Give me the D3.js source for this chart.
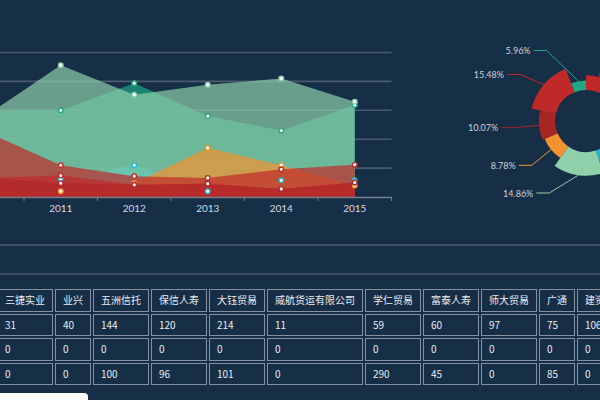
<!DOCTYPE html>
<html><head><meta charset="utf-8">
<script src="https://cdn.jsdelivr.net/npm/d3@7/dist/d3.min.js"></script>
<style>
html,body{margin:0;padding:0;width:600px;height:400px;overflow:hidden;background:#162e46;font-family:"Noto Sans CJK SC","Noto Sans",sans-serif;}
#chart{position:absolute;left:0;top:0;}
#tbl{position:absolute;left:-5px;top:287px;border-collapse:separate;border-spacing:2px;white-space:nowrap;}
#tbl td{border:1px solid #8591a0;color:#e8edf2;font-size:10px;padding:0 7px;height:20.5px;line-height:20.5px;}
#thumb{position:absolute;left:0;top:393px;width:88px;height:12px;background:#ffffff;border-radius:0 4px 0 0;}
</style></head><body>
<svg id="chart" width="600" height="290"></svg>
<table id="tbl"></table>
<div id="thumb"></div>
<script>
// ---------- data ----------
const years = ["2010", "2011", "2012", "2013", "2014", "2015"];
const seriesTeal = [150, 150, 197, 140, 115, 159];
const seriesCyan = [20, 31, 55, 10, 29, 29];
const seriesLightGreen = [142, 228, 177, 194, 205, 165];
const seriesOrange = [15, 10, 24, 85, 55, 20];
const seriesRed = [112, 55, 36, 33, 48, 56];
const seriesRed2 = [33, 37, 21, 23, 14, 25];
const seriesDarkRed = [33, 24, 21, 23, 14, 25];
const yTicks = [50, 100, 150, 200, 250];

const pieValues = [9.20, 13.80, 14.85, 7.00, 14.86, 8.78, 10.07, 15.48, 5.96];

const tableHeader = ["三捷实业", "业兴", "五洲信托", "保信人寿", "大钰贸易", "威航货运有限公司", "学仁贸易", "富泰人寿", "师大贸易", "广通", "建资贸易"];
const tableRow1 = [31, 40, 144, 120, 214, 11, 59, 60, 97, 75, 106];
const tableRow2 = [0, 0, 0, 0, 0, 0, 0, 0, 0, 0, 0];
const tableRow3 = [0, 0, 100, 96, 101, 0, 290, 45, 0, 85, 0];

// ---------- styles ----------
const C = {teal:"#20a884", cyan:"#1db8d4", lightGreen:"#8fcfa9", orange:"#f5922e", red:"#c0292a", darkRed:"#b0262a"};
const areaSeries = [
  {v: seriesTeal, c: C.teal},
  {v: seriesCyan, c: C.cyan},
  {v: seriesLightGreen, c: C.lightGreen},
  {v: seriesOrange, c: C.orange},
  {v: seriesRed, c: C.red},
  {v: seriesRed2, c: C.red},
  {v: seriesDarkRed, c: C.darkRed}
];
const pieColors = [C.red, C.orange, C.teal, C.cyan, C.lightGreen, C.orange, "#a92526", C.red, C.teal];
const W = 600;

const svg = d3.select("#chart");

// ---------- area chart ----------
const x = d3.scaleBand().domain(years).range([-49.5, 391.5]).padding(0);
const y = d3.scaleLinear().domain([0, 250]).range([197, 52.5]);
const cxp = d => x(d) + x.bandwidth() / 2;

const gridColor = "#4a5c70";
svg.append("g").selectAll("line").data(yTicks).join("line")
  .attr("x1", x.range()[0]).attr("x2", x.range()[1])
  .attr("y1", d => y(d)).attr("y2", d => y(d))
  .attr("stroke", gridColor).attr("stroke-width", 1.6);

const area = d3.area().x((d, i) => cxp(years[i])).y0(y(0)).y1(d => y(d));
svg.append("g").selectAll("path").data(areaSeries).join("path")
  .attr("d", s => area(s.v)).attr("fill", s => s.c).attr("fill-opacity", 0.7);

const xAxis = svg.append("g").attr("transform", `translate(0,${y(0)})`)
  .call(d3.axisBottom(x).tickSize(0).tickPadding(8));
xAxis.select(".domain").attr("stroke", "#6f7f90").attr("stroke-width", 1.5);
xAxis.selectAll("text").attr("fill", "#d3dae2").attr("font-size", 10)
  .attr("font-family", "Lato, 'Noto Sans', sans-serif");
// labels whose slot lies outside the visible window are not drawn
xAxis.selectAll(".tick").filter(d => cxp(d) - 12 < 0).remove();
// ticks at band boundaries
svg.append("g").selectAll("line").data(years.concat(["end"])).join("line")
  .attr("x1", (d, i) => x.range()[0] + i * x.bandwidth())
  .attr("x2", (d, i) => x.range()[0] + i * x.bandwidth())
  .attr("y1", y(0)).attr("y2", y(0) + 4)
  .attr("stroke", "#6f7f90").attr("stroke-width", 1);

// dots
const dotG = svg.append("g");
areaSeries.forEach(s => {
  dotG.selectAll(null).data(s.v).join("circle")
    .attr("cx", (d, i) => cxp(years[i])).attr("cy", d => y(d))
    .attr("r", 2.3).attr("fill", "#ffffff").attr("stroke", s.c).attr("stroke-width", 1.4);
});

// separator lines
svg.append("g").selectAll("line").data([245, 274]).join("line")
  .attr("x1", 0).attr("x2", W).attr("y1", d => d).attr("y2", d => d)
  .attr("stroke", gridColor).attr("stroke-width", 1.6);

// ---------- rose donut ----------
const pcx = 586, pcy = 121, r0 = 31, rMax = 55.8;
const rScale = d3.scaleLinear().domain([0, d3.max(pieValues)]).range([r0, rMax]);
const pieData = d3.pie().sort(null).value(d => d)(pieValues);
const total = d3.sum(pieValues);
const arc = d3.arc();
const pg = svg.append("g");
pg.selectAll("path").data(pieData).join("path")
  .attr("transform", `translate(${pcx},${pcy})`)
  .attr("d", d => arc({innerRadius: r0, outerRadius: rScale(d.data), startAngle: d.startAngle, endAngle: d.endAngle}))
  .attr("fill", (d, i) => pieColors[i]);

const L1 = 25, L2 = 13, minGap = 24, bottomLimit = pcy + 72;
const labels = pieData.map((d, i) => {
  const a = (d.startAngle + d.endAngle) / 2, r = rScale(d.data);
  const s = Math.sin(a), c = -Math.cos(a);
  return {i, d, x0: pcx + r * s, y0: pcy + r * c, x1: pcx + (r + L1) * s, y1: pcy + (r + L1) * c, yi: pcy + (r + L1) * c, side: s < 0 ? -1 : 1};
});
[-1, 1].forEach(side => {
  const L = labels.filter(l => l.side === side).sort((a, b) => a.y1 - b.y1);
  for (let it = 0; it < 50; it++) {
    for (let k = 1; k < L.length; k++) {
      const def = minGap - (L[k].y1 - L[k - 1].y1);
      if (def > 0) { L[k].y1 += def / 2; L[k - 1].y1 -= def / 2; }
    }
    for (let k = L.length - 1; k >= 0; k--) {
      if (L[k].y1 > bottomLimit) L[k].y1 = bottomLimit;
      if (k < L.length - 1 && L[k + 1].y1 - L[k].y1 < minGap) L[k].y1 = L[k + 1].y1 - minGap;
    }
  }
  L.forEach(l => {
    if (Math.abs(l.y1 - l.yi) > 0.5) {
      const R = rMax + L1, dy = l.y1 - pcy;
      l.x1 = pcx + side * Math.sqrt(Math.max(0, R * R - dy * dy));
    }
  });
});
pg.selectAll("polyline").data(labels).join("polyline")
  .attr("points", l => `${l.x0},${l.y0} ${l.x1},${l.y1} ${l.x1 + l.side * L2},${l.y1}`)
  .attr("fill", "none").attr("stroke", l => pieColors[l.i]).attr("stroke-width", 1);
// only labels that fall inside the visible window are written (the others lie beyond its right edge)
pg.selectAll("text").data(labels.filter(l => l.x1 + l.side * (L2 + 3) < W)).join("text")
  .attr("x", l => l.x1 + l.side * (L2 + 3)).attr("y", l => l.y1)
  .attr("text-anchor", l => l.side < 0 ? "end" : "start")
  .attr("dominant-baseline", "central")
  .attr("fill", "#cbd3dc").attr("font-size", 9)
  .attr("font-family", "Lato, 'Noto Sans', sans-serif")
  .text(l => d3.format(".2f")(l.d.data / total * 100) + "%");

// ---------- table ----------
const rows = [tableHeader, tableRow1, tableRow2, tableRow3];
d3.select("#tbl").selectAll("tr").data(rows).join("tr")
  .selectAll("td").data(r => r).join("td").text(d => d);
</script>
</body></html>
